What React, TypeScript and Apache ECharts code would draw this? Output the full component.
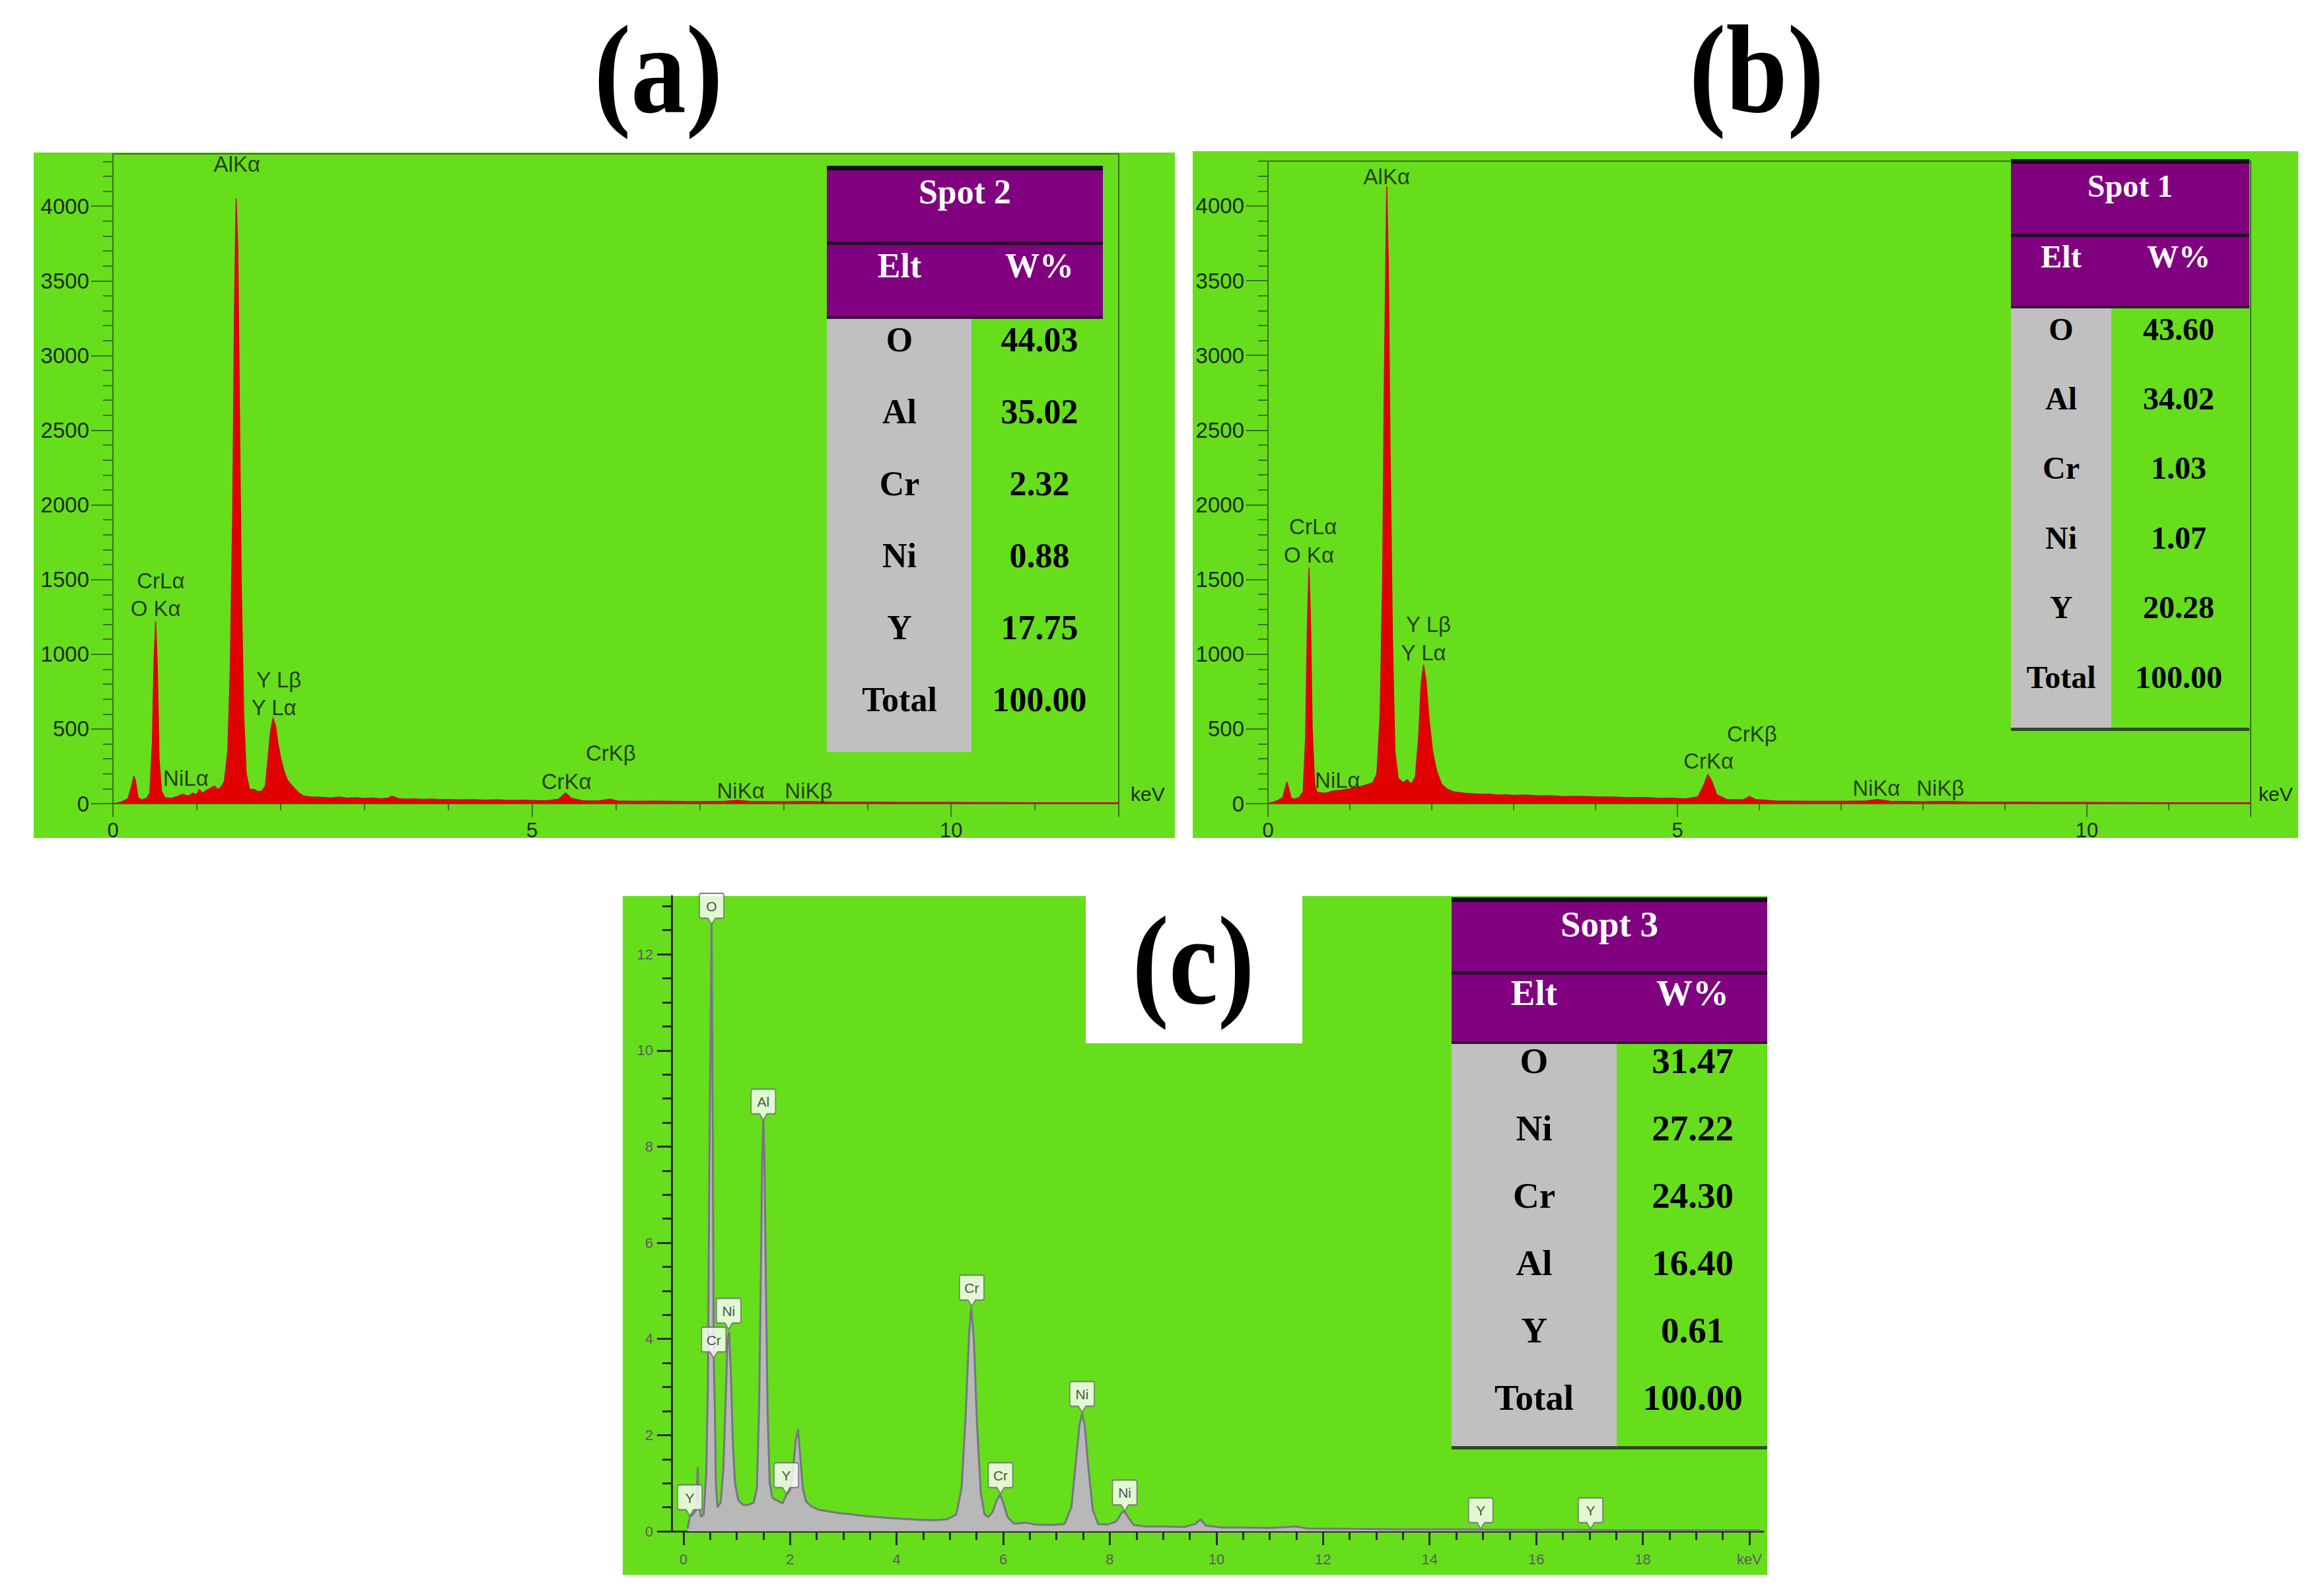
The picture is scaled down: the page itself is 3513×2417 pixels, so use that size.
import React, { useEffect, useRef } from "react";
import * as echarts from "echarts";

// ---------- texts ----------
const panelTitles = ["(a)", "(b)", "(c)"];
const tableTitles = ["Spot 2", "Spot 1", "Sopt 3"];
const tableHead = ["Elt", "W%"];
const eltA = ["O", "Al", "Cr", "Ni", "Y", "Total"];
const wtA = ["44.03", "35.02", "2.32", "0.88", "17.75", "100.00"];
const eltB = ["O", "Al", "Cr", "Ni", "Y", "Total"];
const wtB = ["43.60", "34.02", "1.03", "1.07", "20.28", "100.00"];
const eltC = ["O", "Ni", "Cr", "Al", "Y", "Total"];
const wtC = ["31.47", "27.22", "24.30", "16.40", "0.61", "100.00"];

// ---------- axis ticks ----------
const countLabels = [0, 500, 1000, 1500, 2000, 2500, 3000, 3500, 4000];
const countMinor = [100, 200, 300, 400, 600, 700, 800, 900, 1100, 1200, 1300, 1400, 1600, 1700, 1800, 1900, 2100, 2200, 2300, 2400, 2600, 2700, 2800, 2900, 3100, 3200, 3300, 3400, 3600, 3700, 3800, 3900, 4100, 4200, 4300];
const energyLabelsAB = [0, 5, 10];
const energyMajorAB = [0, 5, 10, 12];
const energyMinorAB = [1, 2, 3, 4, 6, 7, 8, 9, 11];
const energyLabelsC = [0, 2, 4, 6, 8, 10, 12, 14, 16, 18, 20];
const energyMinorC = [0.5, 1, 1.5, 2.5, 3, 3.5, 4.5, 5, 5.5, 6.5, 7, 7.5, 8.5, 9, 9.5, 10.5, 11, 11.5, 12.5, 13, 13.5, 14.5, 15, 15.5, 16.5, 17, 17.5, 18.5, 19, 19.5];
const valueLabelsC = [0, 2, 4, 6, 8, 10, 12];
const valueMinorC = [0.5, 1, 1.5, 2.5, 3, 3.5, 4.5, 5, 5.5, 6.5, 7, 7.5, 8.5, 9, 9.5, 10.5, 11, 11.5, 12.5, 13];

// ---------- spectra [keV, counts] ----------
const specA: number[][] = [
  [0.0, 0], [0.05, 5], [0.12, 15], [0.18, 35], [0.22, 110], [0.25, 185], [0.27, 150], [0.3, 40],
  [0.34, 25], [0.4, 35], [0.44, 70], [0.47, 400], [0.49, 950], [0.51, 1220], [0.53, 900], [0.55, 300],
  [0.58, 80], [0.62, 40], [0.7, 35], [0.78, 50], [0.83, 63], [0.9, 50], [0.95, 70], [1.0, 60],
  [1.03, 95], [1.07, 70], [1.12, 90], [1.17, 105], [1.21, 118], [1.25, 95], [1.29, 110], [1.33, 150],
  [1.37, 350], [1.4, 900], [1.43, 2000], [1.45, 3300], [1.47, 4050], [1.49, 3700], [1.51, 2600], [1.53, 1500],
  [1.56, 600], [1.59, 200], [1.63, 95], [1.69, 95], [1.73, 80], [1.78, 85], [1.82, 120], [1.85, 300],
  [1.88, 480], [1.91, 575], [1.94, 520], [1.97, 400], [2.0, 310], [2.04, 220], [2.08, 160], [2.12, 130],
  [2.17, 100], [2.22, 70], [2.27, 52], [2.35, 45], [2.5, 42], [2.6, 38], [2.7, 44], [2.8, 36], [2.9, 40], [3.0, 34], [3.1, 38],
  [3.2, 32], [3.28, 36], [3.33, 50], [3.4, 34], [3.5, 30], [3.6, 32], [3.7, 28], [3.8, 31], [3.9, 27], [4.0, 28],
  [4.15, 25], [4.3, 27], [4.45, 23], [4.6, 25], [4.75, 21], [4.9, 23], [5.05, 20], [5.2, 21], [5.32, 30], [5.4, 72],
  [5.47, 35], [5.6, 20], [5.7, 18], [5.8, 19], [5.93, 30], [6.02, 18], [6.15, 17], [6.3, 16], [6.45, 17], [6.6, 16],
  [6.8, 14], [7.0, 13], [7.15, 14], [7.3, 15], [7.45, 22], [7.6, 14], [7.8, 13], [8.0, 12],
  [8.3, 14], [8.6, 10], [9.0, 10], [9.5, 8], [10.0, 8], [10.5, 7], [11.0, 6], [11.5, 6], [12.0, 5],
];
const specB: number[][] = [
  [0.0, 0], [0.05, 8], [0.12, 20], [0.18, 40], [0.21, 100], [0.23, 145], [0.25, 110], [0.28, 40],
  [0.32, 30], [0.38, 40], [0.43, 80], [0.46, 450], [0.48, 1150], [0.5, 1580], [0.52, 1200], [0.54, 500],
  [0.57, 130], [0.6, 75], [0.7, 70], [0.8, 85], [0.9, 90], [1.0, 100], [1.1, 110], [1.2, 125],
  [1.28, 140], [1.33, 200], [1.37, 600], [1.4, 1500], [1.42, 2800], [1.45, 4130], [1.47, 3600], [1.49, 2400],
  [1.52, 1100], [1.55, 350], [1.59, 170], [1.65, 140], [1.7, 160], [1.75, 130], [1.8, 180], [1.84, 450],
  [1.87, 800], [1.9, 930], [1.93, 820], [1.97, 550], [2.01, 350], [2.06, 220], [2.12, 130], [2.18, 100],
  [2.26, 80], [2.4, 70], [2.5, 66], [2.6, 62], [2.7, 64], [2.8, 58], [2.9, 60], [3.0, 55], [3.15, 57], [3.3, 52],
  [3.45, 53], [3.6, 48], [3.8, 49], [4.0, 45], [4.2, 44], [4.4, 40], [4.6, 41], [4.8, 35], [4.95, 36], [5.1, 32],
  [5.25, 45], [5.32, 120], [5.37, 195], [5.42, 150], [5.48, 60],
  [5.6, 28], [5.8, 25], [5.88, 48], [5.95, 28], [6.2, 18], [6.6, 15], [7.0, 15], [7.3, 18],
  [7.45, 28], [7.6, 16], [8.0, 12], [8.3, 14], [8.6, 10], [9.0, 10], [9.5, 8], [10.0, 8],
  [10.5, 7], [11.0, 6], [11.5, 6], [12.0, 5],
];
const specC: number[][] = [
  [0.08, 0.05], [0.12, 0.3], [0.18, 0.35], [0.24, 0.45], [0.26, 1.0], [0.27, 1.33], [0.29, 0.6], [0.33, 0.3],
  [0.38, 0.35], [0.43, 1.2], [0.46, 3.0], [0.49, 8.0], [0.53, 12.65], [0.55, 8.5], [0.57, 3.6], [0.59, 2.6],
  [0.61, 1.0], [0.64, 0.5], [0.7, 0.6], [0.75, 1.3], [0.79, 2.6], [0.83, 4.0], [0.86, 4.15], [0.89, 3.3],
  [0.93, 1.8], [0.97, 1.0], [1.03, 0.65], [1.12, 0.55], [1.22, 0.55], [1.32, 0.6], [1.38, 0.9], [1.42, 2.5],
  [1.45, 5.0], [1.48, 7.8], [1.5, 8.55], [1.52, 7.8], [1.55, 5.0], [1.58, 2.5], [1.62, 1.0], [1.67, 0.7],
  [1.74, 0.65], [1.8, 0.62], [1.86, 0.58], [1.93, 0.75], [2.0, 0.85], [2.06, 1.3], [2.11, 1.9], [2.15, 2.12],
  [2.19, 1.6], [2.24, 0.9], [2.3, 0.62], [2.4, 0.52], [2.53, 0.45], [2.7, 0.42], [2.9, 0.38], [3.1, 0.36],
  [3.3, 0.33], [3.5, 0.31], [3.8, 0.28], [4.1, 0.26], [4.4, 0.24], [4.7, 0.23], [4.95, 0.25], [5.12, 0.35],
  [5.22, 0.9], [5.3, 2.5], [5.36, 4.1], [5.4, 4.65], [5.45, 4.0], [5.51, 2.2], [5.58, 0.8], [5.65, 0.35],
  [5.72, 0.3], [5.8, 0.4], [5.88, 0.65], [5.94, 0.76], [6.0, 0.6], [6.08, 0.3], [6.2, 0.16], [6.43, 0.18],
  [6.6, 0.14], [6.9, 0.13], [7.15, 0.15], [7.28, 0.5], [7.36, 1.4], [7.43, 2.2], [7.48, 2.45], [7.53, 2.2],
  [7.6, 1.3], [7.68, 0.45], [7.78, 0.15], [7.95, 0.14], [8.12, 0.2], [8.22, 0.38], [8.27, 0.42], [8.34, 0.3],
  [8.45, 0.13], [8.7, 0.1], [9.0, 0.1], [9.4, 0.09], [9.6, 0.15], [9.7, 0.25], [9.8, 0.12], [10.1, 0.08],
  [10.5, 0.08], [11.0, 0.07], [11.5, 0.1], [11.7, 0.06], [12.5, 0.05], [13.5, 0.04], [14.5, 0.04], [15.5, 0.03],
  [16.5, 0.03], [17.5, 0.02], [18.5, 0.02], [19.5, 0.02], [20.2, 0.02],
];

// ---------- peak annotations [keV, y, text] ----------
const peaksA: [number, number, string][] = [
  [1.48, 4280, "AlKα"], [0.57, 1490, "CrLα"], [0.51, 1308, "O Kα"], [0.87, 168, "NiLα"],
  [1.98, 831, "Y Lβ"], [1.92, 645, "Y Lα"], [5.94, 336, "CrKβ"], [5.41, 146, "CrKα"],
  [7.49, 88, "NiKα"], [8.3, 88, "NiKβ"],
];
const peaksB: [number, number, string][] = [
  [1.45, 4194, "AlKα"], [0.55, 1852, "CrLα"], [0.5, 1666, "O Kα"], [0.85, 159, "NiLα"],
  [1.96, 1198, "Y Lβ"], [1.9, 1008, "Y Lα"], [5.91, 468, "CrKβ"], [5.38, 283, "CrKα"],
  [7.43, 102, "NiKα"], [8.21, 102, "NiKβ"],
];
const peaksC: [number, number, string][] = [
  [0.53, 12.62, "O"], [1.5, 8.55, "Al"], [0.85, 4.2, "Ni"], [0.57, 3.6, "Cr"], [0.12, 0.32, "Y"],
  [1.93, 0.78, "Y"], [5.41, 4.68, "Cr"], [5.95, 0.78, "Cr"], [7.48, 2.47, "Ni"], [8.28, 0.42, "Ni"],
  [14.96, 0.05, "Y"], [17.02, 0.05, "Y"],
];

const W = 3513;
const H = 2417;
const GREEN = "#66DE1B";
const PURPLE = "#800080";
const GRAY = "#C0C0C0";
const AXG = "#3a7318";

function xMain(gi: number, min: number, max: number, labels: number[], ticks: number[], o: any) {
  return {
    type: "value", gridIndex: gi, min, max, position: "bottom",
    splitLine: { show: false },
    axisLine: { show: true, onZero: false, lineStyle: { color: o.lineColor, width: o.lineWidth } },
    axisTick: { show: true, customValues: ticks, length: o.tickLen, lineStyle: { color: o.lineColor, width: o.tickWidth } },
    axisLabel: { show: true, customValues: labels, margin: o.margin, color: o.labelColor, fontSize: o.fontSize, fontFamily: "Liberation Sans",
      formatter: o.formatter || ((v: number) => String(v)) },
    name: o.name || "", nameLocation: "end", nameGap: o.nameGap || 15,
    nameTextStyle: { fontSize: 30, color: "#1d2a14", fontFamily: "Liberation Sans", verticalAlign: "bottom", align: "left" },
  };
}
function xMinor(gi: number, min: number, max: number, ticks: number[], len: number, color: string, width: number) {
  return {
    type: "value", gridIndex: gi, min, max, position: "bottom",
    splitLine: { show: false }, axisLine: { show: false, onZero: false }, axisLabel: { show: false },
    axisTick: { show: true, customValues: ticks, length: len, lineStyle: { color, width } },
  };
}
function yMain(gi: number, min: number, max: number, labels: number[], o: any) {
  return {
    type: "value", gridIndex: gi, min, max, position: "left",
    splitLine: { show: false },
    axisLine: { show: true, onZero: false, lineStyle: { color: o.lineColor, width: o.lineWidth } },
    axisTick: { show: true, customValues: labels, length: o.tickLen, lineStyle: { color: o.lineColor, width: o.tickWidth } },
    axisLabel: { show: true, customValues: labels, margin: o.margin, color: o.labelColor, fontSize: o.fontSize, fontFamily: "Liberation Sans",
      formatter: (v: number) => String(v) },
  };
}
function yMinor(gi: number, min: number, max: number, ticks: number[], len: number, color: string, width: number) {
  return {
    type: "value", gridIndex: gi, min, max, position: "left",
    splitLine: { show: false }, axisLine: { show: false, onZero: false }, axisLabel: { show: false },
    axisTick: { show: true, customValues: ticks, length: len, lineStyle: { color, width } },
  };
}

function txt(x: number, y: number, text: string, size: number, fill: string, serif: boolean, z = 12, scaleX = 1) {
  return {
    type: "text", x, y, z, scaleX,
    style: {
      text, fill, fontSize: size, lineHeight: size, fontWeight: "bold",
      fontFamily: serif ? "Liberation Serif" : "Liberation Sans",
      align: "center", verticalAlign: "middle", textAlign: "center", textVerticalAlign: "middle",
    },
  };
}

function table(t: any, title: string, elts: string[], wts: string[]) {
  const w = t.right - t.left;
  const els: any[] = [
    { type: "rect", z: 10, shape: { x: t.left, y: t.top, width: w, height: t.div2 - t.top }, style: { fill: PURPLE } },
    { type: "rect", z: 10, shape: { x: t.left, y: t.div2, width: t.grayRight - t.left, height: t.grayBottom - t.div2 }, style: { fill: GRAY } },
    { type: "rect", z: 11, shape: { x: t.left, y: t.top - 3, width: w, height: 7 }, style: { fill: "#111" } },
    { type: "rect", z: 11, shape: { x: t.left, y: t.div1 - 2, width: w, height: 5 }, style: { fill: "#2a0a2a" } },
    { type: "rect", z: 11, shape: { x: t.left, y: t.div2 - 2, width: w, height: 4 }, style: { fill: "#3a103a" } },
  ];
  if (t.bottomLine) {
    els.push({ type: "rect", z: 11, shape: { x: t.left, y: t.grayBottom, width: w, height: 5 }, style: { fill: "#2f4a22" } });
  }
  els.push(txt((t.left + t.right) / 2, t.titleY, title, t.font, "#fff", true));
  els.push(txt(t.col1, t.headY, tableHead[0], t.font, "#fff", true));
  els.push(txt(t.col2, t.headY, tableHead[1], t.font, "#fff", true));
  elts.forEach((e, i) => {
    const y = t.row0 + i * t.rowStep;
    els.push(txt(t.col1, y, e, t.font, "#000", true));
    els.push(txt(t.col2, y, wts[i], t.font, "#000", true));
  });
  return els;
}

function buildOption() {
  const abX = { lineColor: AXG, lineWidth: 2, tickWidth: 2, tickLen: 20, margin: 25, labelColor: "#1d2a14", fontSize: 31 };
  const abY = { lineColor: AXG, lineWidth: 2, tickWidth: 2, tickLen: 33, margin: 36, labelColor: "#1d2a14", fontSize: 33 };
  const cX = { lineColor: "#2b2b2b", lineWidth: 3, tickWidth: 3, tickLen: 21, margin: 31, labelColor: "#5a5a66", fontSize: 22,
    formatter: (v: number) => (v === 20 ? "keV" : String(v)) };
  const cY = { lineColor: "#2b2b2b", lineWidth: 3, tickWidth: 3, tickLen: 22, margin: 28, labelColor: "#5a5a66", fontSize: 22 };

  const annot = (d: [number, number, string][], xi: number) => ({
    type: "scatter", xAxisIndex: xi, yAxisIndex: xi, silent: true, z: 4,
    data: d.map(([x, y, t]) => ({ value: [x, y], name: t })),
    symbolSize: 1, itemStyle: { color: "rgba(0,0,0,0)" },
    label: { show: true, position: "inside", formatter: "{b}", fontSize: 33, color: "#121212", fontFamily: "Liberation Sans" },
  });

  const graphic: any[] = [
    { type: "rect", z: -5, shape: { x: 51, y: 231, width: 1728, height: 1038 }, style: { fill: GREEN } },
    { type: "rect", z: -5, shape: { x: 1806, y: 229, width: 1674, height: 1040 }, style: { fill: GREEN } },
    { type: "rect", z: -5, shape: { x: 943, y: 1357, width: 1733, height: 1028 }, style: { fill: GREEN } },
    txt(997, 106, panelTitles[0], 190, "#000", true, 12, 0.88),
    txt(2660, 106, panelTitles[1], 190, "#000", true, 12, 0.88),
    { type: "rect", z: 10, shape: { x: 1644, y: 1353, width: 328, height: 227 }, style: { fill: "#fff" } },
    txt(1807, 1455, panelTitles[2], 190, "#000", true, 12, 0.88),
    ...table({ left: 1252, right: 1670, top: 254, div1: 368, div2: 481, grayRight: 1471, grayBottom: 1139, bottomLine: false,
      titleY: 290, headY: 402, col1: 1362, col2: 1574, row0: 514, rowStep: 109, font: 52 }, tableTitles[0], eltA, wtA),
    ...table({ left: 3045, right: 3406, top: 244, div1: 356, div2: 465, grayRight: 3197, grayBottom: 1102, bottomLine: true,
      titleY: 281, headY: 388, col1: 3121, col2: 3299, row0: 498, rowStep: 105.4, font: 48 }, tableTitles[1], eltB, wtB),
    ...table({ left: 2198, right: 2676, top: 1362, div1: 1473, div2: 1579, grayRight: 2448, grayBottom: 2190, bottomLine: true,
      titleY: 1399, headY: 1503, col1: 2323, col2: 2563, row0: 1606, rowStep: 102, font: 55 }, tableTitles[2], eltC, wtC),
  ];

  return {
    animation: false,
    backgroundColor: "#ffffff",
    textStyle: { fontFamily: "Liberation Sans" },
    grid: [
      { left: 171, top: 233, width: 1523, height: 984, show: true, borderColor: AXG, borderWidth: 2, backgroundColor: "transparent" },
      { left: 1920, top: 244, width: 1488, height: 973, show: true, borderColor: AXG, borderWidth: 2, backgroundColor: "transparent" },
      { left: 1017, top: 1357, width: 1653, height: 962, show: false },
    ],
    xAxis: [
      xMain(0, 0, 12, energyLabelsAB, energyMajorAB, { ...abX, name: "keV", nameGap: 18 }),
      xMinor(0, 0, 12, energyMinorAB, 10, AXG, 2),
      xMain(1, 0, 12, energyLabelsAB, energyMajorAB, { ...abX, name: "keV", nameGap: 12 }),
      xMinor(1, 0, 12, energyMinorAB, 10, AXG, 2),
      xMain(2, -0.22, 20.26, energyLabelsC, energyLabelsC, cX),
      xMinor(2, -0.22, 20.26, energyMinorC, 13, "#2b2b2b", 3),
    ],
    yAxis: [
      yMain(0, 0, 4350, countLabels, abY),
      yMinor(0, 0, 4350, countMinor, 15, AXG, 2),
      yMain(1, 0, 4300, countLabels, abY),
      yMinor(1, 0, 4300, countMinor, 15, AXG, 2),
      yMain(2, 0, 13.21, valueLabelsC, cY),
      yMinor(2, 0, 13.21, valueMinorC, 14, "#2b2b2b", 3),
    ],
    series: [
      { type: "line", xAxisIndex: 0, yAxisIndex: 0, data: specA, showSymbol: false, symbol: "none", silent: true, z: 2,
        lineStyle: { color: "#D40000", width: 1.5 }, areaStyle: { color: "#E00000", opacity: 1 } },
      annot(peaksA, 0),
      { type: "line", xAxisIndex: 2, yAxisIndex: 2, data: specB, showSymbol: false, symbol: "none", silent: true, z: 2,
        lineStyle: { color: "#D40000", width: 1.5 }, areaStyle: { color: "#E00000", opacity: 1 } },
      annot(peaksB, 2),
      { type: "line", xAxisIndex: 4, yAxisIndex: 4, data: specC, showSymbol: false, symbol: "none", silent: true, z: 2,
        lineStyle: { color: "#767684", width: 3 }, areaStyle: { color: "#B8B8B8", opacity: 1 } },
      {
        type: "scatter", xAxisIndex: 4, yAxisIndex: 4, silent: true, z: 5,
        data: peaksC.map(([x, y, t]) => ({ value: [x, y], name: t })),
        symbol: "path://M3,0 L37,0 Q40,0 40,3 L40,37 Q40,40 37,40 L26,40 L20,50 L14,40 L3,40 Q0,40 0,37 L0,3 Q0,0 3,0 Z",
        symbolSize: [37, 47], symbolOffset: [0, "-50%"], symbolKeepAspect: false,
        itemStyle: { color: "#ffffff", borderColor: "#6d6d6d", borderWidth: 2 },
        label: { show: true, position: "inside", offset: [0, -4], formatter: "{b}", fontSize: 21, color: "#222", fontFamily: "Liberation Sans" },
      },
    ],
    graphic,
  };
}

export default function App() {
  const ref = useRef<HTMLDivElement>(null);
  useEffect(() => {
    if (!ref.current) return;
    const chart = echarts.init(ref.current, undefined, { renderer: "svg" });
    chart.setOption(buildOption() as any);
    return () => chart.dispose();
  }, []);
  return <div ref={ref} style={{ position: "absolute", left: 0, top: 0, width: W, height: H, background: "#fff" }} />;
}
